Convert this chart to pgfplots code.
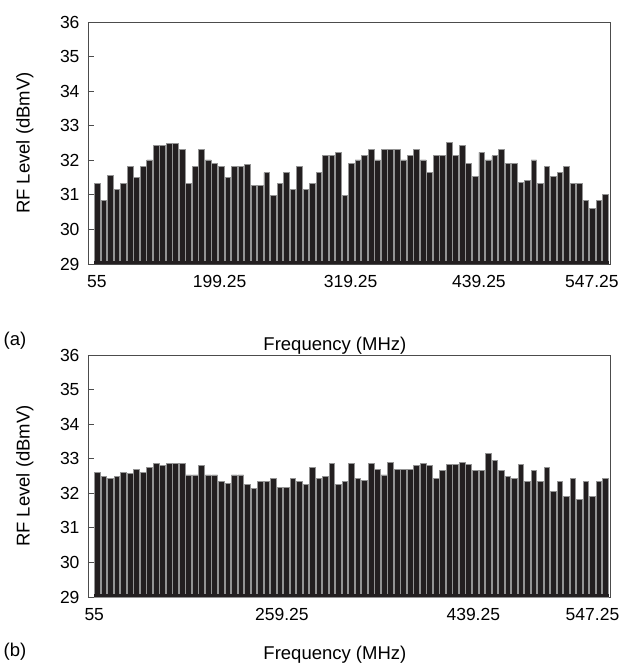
\documentclass[border=0pt]{standalone}
\usepackage{pgfplots}
\pgfplotsset{compat=1.18}
\usepackage{pgfplotstable}
\usepackage{fontspec}
\setmainfont{Liberation Sans}

\pgfplotstableread{
n v
1 31.33
2 30.85
3 31.56
4 31.16
5 31.33
6 31.82
7 31.51
8 31.82
9 32.01
10 32.42
11 32.42
12 32.48
13 32.48
14 32.31
15 31.33
16 31.82
17 32.32
18 32.01
19 31.92
20 31.82
21 31.51
22 31.82
23 31.82
24 31.87
25 31.27
26 31.27
27 31.64
28 30.99
29 31.33
30 31.64
31 31.16
32 31.82
33 31.16
34 31.33
35 31.64
36 32.13
37 32.13
38 32.23
39 30.99
40 31.90
41 32.01
42 32.13
43 32.31
44 32.01
45 32.31
46 32.31
47 32.31
48 32.01
49 32.13
50 32.31
51 32.01
52 31.64
53 32.13
54 32.13
55 32.51
56 32.13
57 32.42
58 31.92
59 31.52
60 32.23
61 32.01
62 32.13
63 32.31
64 31.92
65 31.92
66 31.37
67 31.42
68 32.01
69 31.33
70 31.82
71 31.52
72 31.64
73 31.82
74 31.33
75 31.33
76 30.85
77 30.61
78 30.85
79 31.01
}\levela

\pgfplotstableread{
n v
1 32.61
2 32.48
3 32.43
4 32.48
5 32.61
6 32.57
7 32.68
8 32.61
9 32.76
10 32.86
11 32.81
12 32.86
13 32.86
14 32.86
15 32.53
16 32.53
17 32.81
18 32.53
19 32.53
20 32.33
21 32.29
22 32.53
23 32.53
24 32.25
25 32.15
26 32.33
27 32.33
28 32.43
29 32.16
30 32.16
31 32.43
32 32.33
33 32.25
34 32.76
35 32.43
36 32.48
37 32.86
38 32.25
39 32.33
40 32.86
41 32.43
42 32.38
43 32.86
44 32.68
45 32.53
46 32.89
47 32.68
48 32.68
49 32.68
50 32.81
51 32.86
52 32.81
53 32.43
54 32.66
55 32.84
56 32.84
57 32.88
58 32.84
59 32.66
60 32.66
61 33.15
62 32.95
63 32.66
64 32.48
65 32.43
66 32.84
67 32.33
68 32.66
69 32.33
70 32.74
71 32.05
72 32.33
73 31.92
74 32.43
75 31.82
76 32.33
77 31.92
78 32.33
79 32.43
}\levelb

\definecolor{barcol}{HTML}{231F20}

\pgfplotsset{
  rfpanel/.style={
    scale only axis,
    width=522pt, height=242pt,
    anchor=south west,
    xmin=-0.46, xmax=79.69,
    ymin=29, ymax=36,
    ytick={29,30,...,36},
    ytick pos=left,
    tick align=inside,
    major tick length=6pt,
    x tick style={draw=none},
    axis line style={black!70, line width=0.9pt},
    every tick/.style={black!70, line width=0.8pt},
    tick label style={font=\fontsize{17.5}{20}\selectfont},
    xticklabel style={yshift=-2pt},
    yticklabel style={xshift=-5pt},
    /pgf/number format/assume math mode=true,
    label style={font=\fontsize{18.5}{22}\selectfont},
    ylabel={RF Level (dBmV)},
    ylabel style={at={(axis description cs:-0.121,0.5)}, anchor=center},
    xlabel={Frequency (MHz)},
    ybar, bar width=5.7pt, bar shift=0pt,
  },
  rfbars/.style={fill=barcol, draw=black!42, line width=0.8pt},
  rfbase/.style={sharp plot, fill=barcol, draw=none},
}

\begin{document}
\begin{tikzpicture}
\useasboundingbox (0pt,0pt) rectangle (641pt,670pt);

\begin{axis}[rfpanel,
  at={(88pt,406pt)},
  xtick={0.9,19.74,39.86,59.57,76.9},
  xticklabels={55,199.25,319.25,439.25,547.25},
  xlabel style={at={(axis description cs:0.473,-0.339)}, anchor=center},
]
\addplot[rfbars] table[x=n, y=v] {\levela};
\addplot[rfbase] coordinates {(0.5,29) (79.5,29) (79.5,29.09) (0.5,29.09)} -- cycle;
\end{axis}

\begin{axis}[rfpanel,
  at={(88pt,73pt)},
  xtick={0.5,29.3,58.7,77.0},
  xticklabels={55,259.25,439.25,547.25},
  xlabel style={at={(axis description cs:0.473,-0.24)}, anchor=center},
]
\addplot[rfbars] table[x=n, y=v] {\levelb};
\addplot[rfbase] coordinates {(0.5,29) (79.5,29) (79.5,29.09) (0.5,29.09)} -- cycle;
\end{axis}

\node[font=\fontsize{18.5}{22}\selectfont] at (15pt,329pt) {(a)};
\node[font=\fontsize{18.5}{22}\selectfont] at (15pt,18pt) {(b)};
\end{tikzpicture}
\end{document}
